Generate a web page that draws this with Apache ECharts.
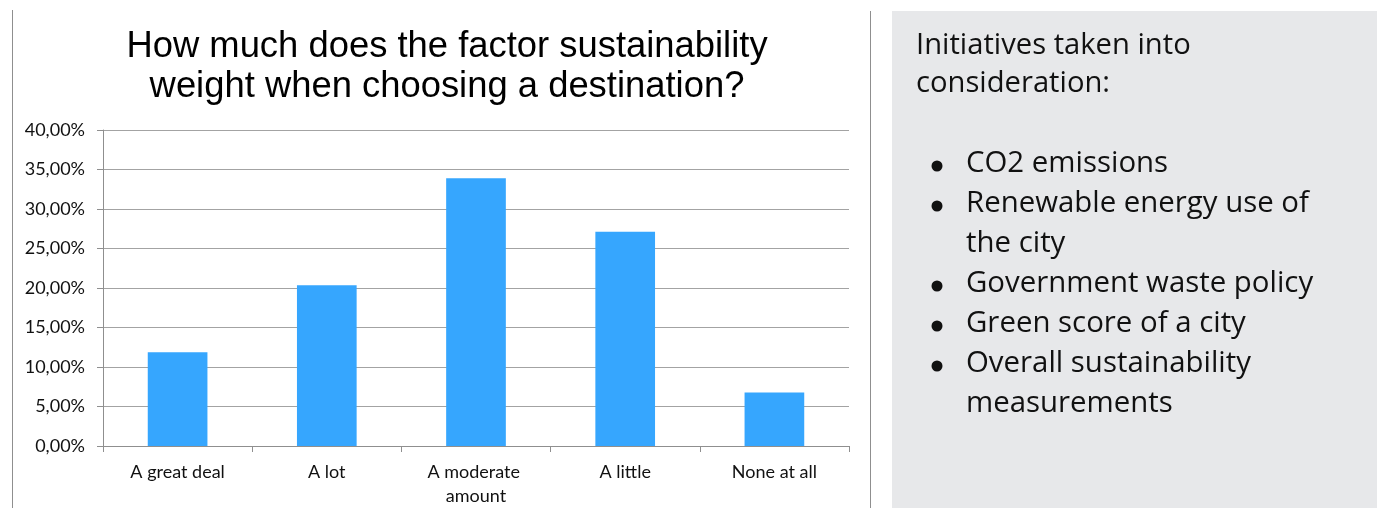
<!DOCTYPE html>
<html>
<head>
<meta charset="utf-8">
<script src="https://cdn.jsdelivr.net/npm/echarts@6/dist/echarts.min.js"></script>
<style>
  html, body { margin: 0; padding: 0; background: #ffffff; }
  #chart { width: 1377px; height: 508px; }
</style>
</head>
<body>
<div id="chart"></div>
<script>
// Survey answers (share of respondents)
const categories = ['A great deal', 'A lot', 'A moderate amount', 'A little', 'None at all'];
const shares = [0.1186, 0.2034, 0.3390, 0.2712, 0.0678];

const chartTitle = 'How much does the factor sustainability\nweight when choosing a destination?';

// Side panel text
const panelHeading = ['Initiatives taken into', 'consideration:'];
const panelLines = [
  { text: 'CO2 emissions', bullet: true },
  { text: 'Renewable energy use of', bullet: true },
  { text: 'the city', bullet: false },
  { text: 'Government waste policy', bullet: true },
  { text: 'Green score of a city', bullet: true },
  { text: 'Overall sustainability', bullet: true },
  { text: 'measurements', bullet: false }
];

const labelFont = 'Lato, "Open Sans", sans-serif';
const panelFont = '"Open Sans", "Noto Sans", sans-serif';

function pct(v) {
  return (v * 100).toFixed(2).replace('.', ',') + '%';
}

const graphics = [
  // frame lines around the chart
  { type: 'line', shape: { x1: 12.5, y1: 10, x2: 12.5, y2: 508 }, style: { stroke: '#8f8f8f', lineWidth: 1 } },
  { type: 'line', shape: { x1: 870.5, y1: 11, x2: 870.5, y2: 508 }, style: { stroke: '#8f8f8f', lineWidth: 1 } },
  // side panel background
  { type: 'rect', shape: { x: 892, y: 11, width: 485, height: 497 }, style: { fill: '#e7e8ea' }, z: -1 }
];

panelHeading.forEach(function (t, i) {
  graphics.push({
    type: 'text', x: 916, y: 46 + i * 38,
    style: { text: t, font: '29.2px ' + panelFont, fill: '#111111', textVerticalAlign: 'middle' }
  });
});

panelLines.forEach(function (line, i) {
  const y = 164 + i * 40;
  if (line.bullet) {
    graphics.push({ type: 'circle', shape: { cx: 937, cy: y + 2, r: 5.5 }, style: { fill: '#111111' } });
  }
  graphics.push({
    type: 'text', x: 966, y: y,
    style: { text: line.text, font: '29.4px ' + panelFont, fill: '#111111', textVerticalAlign: 'middle' }
  });
});

const chart = echarts.init(document.getElementById('chart'));
chart.setOption({
  animation: false,
  backgroundColor: '#ffffff',
  title: {
    text: chartTitle,
    left: 442,
    top: 22,
    textAlign: 'center',
    textStyle: {
      fontFamily: '"Liberation Sans", Arial, sans-serif',
      fontSize: 36.4,
      fontWeight: 'normal',
      color: '#000000',
      lineHeight: 40
    }
  },
  grid: { left: 103, right: 528, top: 130, bottom: 62 },
  xAxis: {
    type: 'category',
    data: categories,
    axisLine: { lineStyle: { color: '#8f8f8f', width: 1 } },
    axisTick: { show: true, length: 6, lineStyle: { color: '#8f8f8f' } },
    axisLabel: {
      color: '#111111',
      fontFamily: labelFont,
      fontSize: 18,
      lineHeight: 24,
      margin: 14,
      interval: 0,
      width: 125,
      overflow: 'break'
    }
  },
  yAxis: {
    type: 'value',
    min: 0,
    max: 0.4,
    interval: 0.05,
    axisLine: { show: true, lineStyle: { color: '#8f8f8f', width: 1 } },
    axisTick: { show: true, length: 6, lineStyle: { color: '#8f8f8f' } },
    splitLine: { lineStyle: { color: '#a3a3a3', width: 1 } },
    axisLabel: {
      color: '#111111',
      fontFamily: labelFont,
      fontSize: 18,
      margin: 18,
      formatter: pct
    }
  },
  series: [{
    type: 'bar',
    data: shares,
    barWidth: '40%',
    itemStyle: { color: '#36a6fe' }
  }],
  graphic: graphics
});
</script>
</body>
</html>
